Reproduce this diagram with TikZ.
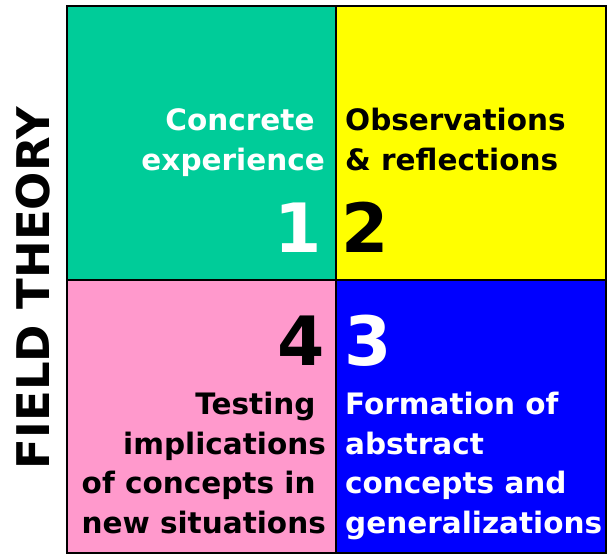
\documentclass[tikz,border=0pt]{standalone}
\usepackage{fontspec}
\setmainfont{DejaVu Sans}
\usepackage{xcolor}
\definecolor{cellgreen}{HTML}{00CC99}
\definecolor{cellyellow}{HTML}{FFFF00}
\definecolor{cellpink}{HTML}{FF99CC}
\definecolor{cellblue}{HTML}{0000FF}
\tikzset{cell/.style={draw=black,line width=2pt},
 label text/.style={font=\bfseries\fontsize{29.5}{39.5}\selectfont,inner sep=0pt},
 big digit/.style={font=\bfseries\fontsize{68}{68}\selectfont,inner sep=0pt},
 }

\begin{document}
\begin{tikzpicture}[x=1pt,y=-1pt]
        \useasboundingbox (0,0) rectangle (610,555);
        % the four quadrants
        \fill[cellgreen] (67,6) rectangle (336,280);
        \fill[cellyellow] (336,6) rectangle (606,280);
        \fill[cellpink] (67,280) rectangle (336,553);
        \fill[cellblue] (336,280) rectangle (606,553);
        \draw[cell] (67,6) rectangle (606,553);
        \draw[cell] (336,6) -- (336,553);
        \draw[cell] (67,280) -- (606,280);
        % side title
        \node[font=\bfseries\fontsize{45}{45}\selectfont,inner sep=0pt,rotate=90] (title) at (33.5,288) {FIELD THEORY};
        % quadrant 1 (base = last line)
        \node[label text,white,align=right,anchor=base east] (concrete) at (325,170) {\mbox{Concrete\ }\\experience};
        \node[big digit,white,anchor=base east] (one) at (322,252) {1};
        % quadrant 2
        \node[label text,align=left,anchor=base west] (observe) at (345,170) {Observations\\\& reflections};
        \node[big digit,anchor=base west] (two) at (341,252) {2};
        % quadrant 4
        \node[big digit,anchor=base east] (four) at (325,365) {4};
        \node[label text,align=right,anchor=base east] (testing) at (326,533) {\mbox{Testing\ }\\implications\\\mbox{of concepts in\ }\\new situations};
        % quadrant 3
        \node[big digit,white,anchor=base west] (three) at (344,365) {3};
        \node[label text,white,align=left,anchor=base west] (formation) at (345,533) {Formation of\\abstract\\concepts and\\generalizations};
    \end{tikzpicture}
\end{document}
